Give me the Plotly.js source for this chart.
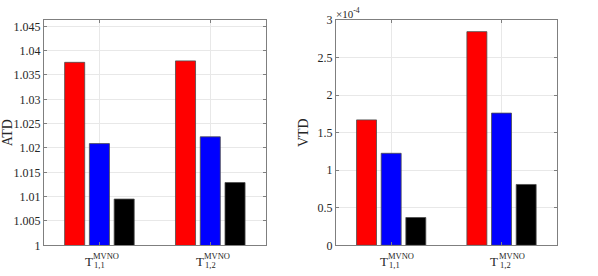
<!DOCTYPE html>
<html>
<head>
<meta charset="utf-8">
<script src="https://cdn.plot.ly/plotly-3.0.1.min.js"></script>
<style>html,body{margin:0;padding:0;background:#fff}#chart{width:598px;height:276px}</style>
</head>
<body>
<div id="chart"></div>
<script>
// ---- data ----
const categories = [1, 2];
const catBase = ['T', 'T'];
const catSup = ['MVNO', 'MVNO'];
const catSub = ['1,1', '1,2'];
const seriesColors = ['#ff0000', '#0000ff', '#000000'];
const atdSeries = [
  [1.0376, 1.0379],
  [1.0209, 1.0223],
  [1.0095, 1.0129]
];
const vtdSeries = [
  [1.67e-4, 2.845e-4],
  [1.225e-4, 1.76e-4],
  [0.37e-4, 0.81e-4]
];
const atdTicks = [1, 1.005, 1.01, 1.015, 1.02, 1.025, 1.03, 1.035, 1.04, 1.045];
const vtdTicks = [0, 0.5e-4, 1e-4, 1.5e-4, 2e-4, 2.5e-4, 3e-4];
const vtdScale = 1e-4;

const FONT = '"Liberation Serif"';
const TXT = '#262626';
const traces = [];
atdSeries.forEach((vals, i) => traces.push({
  type: 'bar', x: categories, y: vals, xaxis: 'x', yaxis: 'y',
  marker: {color: seriesColors[i], line: {color: '#4d4d4d', width: 0.8}},
  showlegend: false, hoverinfo: 'y'
}));
vtdSeries.forEach((vals, i) => traces.push({
  type: 'bar', x: categories, y: vals, xaxis: 'x2', yaxis: 'y2',
  marker: {color: seriesColors[i], line: {color: '#4d4d4d', width: 0.8}},
  showlegend: false, hoverinfo: 'y'
}));

const W = 598, H = 276;
const yDom = [1 - 245.3 / H, 1 - 20 / H];
const axCommon = {
  showline: true, linecolor: '#7f7f7f', linewidth: 1, mirror: 'ticks',
  ticks: 'inside', ticklen: 3, tickcolor: '#7f7f7f',
  showgrid: true, gridcolor: '#e8e8e8', gridwidth: 1, zeroline: false,
  automargin: false, tickfont: {family: FONT, size: 12, color: TXT}
};
const xCommon = Object.assign({}, axCommon, {
  range: [0.5, 2.5], tickvals: categories, showticklabels: false, fixedrange: true
});

const fmt = v => String(parseFloat(v.toFixed(6)));
const annotations = [];
function addLabels(xref, tShift, supShift) {
  categories.forEach((c, i) => {
    annotations.push({xref: xref, yref: 'paper', x: c, y: 1 - 261.5 / H, xanchor: 'right', yanchor: 'middle',
      xshift: tShift, text: catBase[i], showarrow: false, font: {family: FONT, size: 13, color: TXT}});
    annotations.push({xref: xref, yref: 'paper', x: c, y: 1 - 255.5 / H, xanchor: 'left', yanchor: 'middle',
      xshift: supShift, text: catSup[i], showarrow: false, font: {family: FONT, size: 8.5, color: TXT}});
    annotations.push({xref: xref, yref: 'paper', x: c, y: 1 - 264.5 / H, xanchor: 'left', yanchor: 'middle',
      xshift: supShift + 1, text: catSub[i], showarrow: false, font: {family: FONT, size: 8.5, color: TXT}});
  });
}
addLabels('x', -4.5, -8);
addLabels('x2', -1.5, -5);
annotations.push({xref: 'paper', yref: 'paper', x: 334 / W, y: 1 - 13 / H, xanchor: 'left', yanchor: 'middle',
  text: '\u00d710<sup>-4</sup>', showarrow: false, font: {family: FONT, size: 11, color: TXT}});

const layout = {
  width: W, height: H, margin: {l: 0, r: 0, t: 0, b: 0},
  paper_bgcolor: '#fff', plot_bgcolor: '#fff',
  barmode: 'group', bargap: 0.33, bargroupgap: 0.19,
  font: {family: FONT, color: TXT},
  xaxis: Object.assign({}, xCommon, {domain: [44 / W, 265.7 / W], anchor: 'y'}),
  xaxis2: Object.assign({}, xCommon, {domain: [336 / W, 556.7 / W], anchor: 'y2'}),
  yaxis: Object.assign({}, axCommon, {domain: yDom, anchor: 'x', range: [1, 1.0463],
    tickvals: atdTicks, ticktext: atdTicks.map(fmt),
    title: {text: 'ATD', font: {family: FONT, size: 14, color: TXT}, standoff: 7}}),
  yaxis2: Object.assign({}, axCommon, {domain: yDom, anchor: 'x2', range: [0, 3e-4],
    tickvals: vtdTicks, ticktext: vtdTicks.map(v => fmt(v / vtdScale)),
    title: {text: 'VTD', font: {family: FONT, size: 14, color: TXT}, standoff: 5}}),
  annotations: annotations
};
Plotly.newPlot('chart', traces, layout, {displayModeBar: false, staticPlot: true});
</script>
</body>
</html>
